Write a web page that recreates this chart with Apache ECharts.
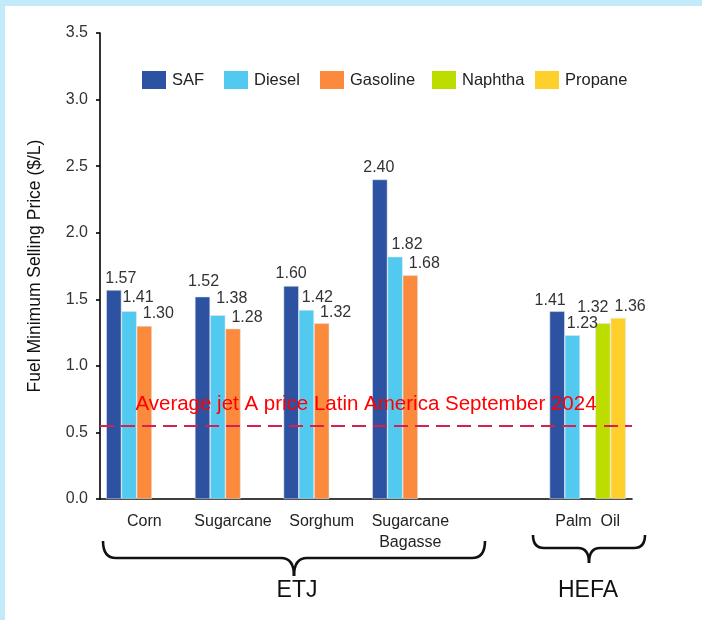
<!DOCTYPE html>
<html>
<head>
<meta charset="utf-8">
<script src="https://cdn.jsdelivr.net/npm/echarts@6/dist/echarts.min.js"></script>
<style>
  html, body { margin: 0; padding: 0; width: 702px; height: 620px; background: #C2EAF8; overflow: hidden; }
  #frame { position: absolute; left: 5px; top: 6px; right: 0; bottom: 0; background: #ffffff; }
  #chart { position: absolute; left: 0; top: 0; width: 702px; height: 620px; }
</style>
</head>
<body>
<div id="frame"></div>
<div id="chart"></div>
<script>
// ---------- data ----------
const categories = ['Corn', 'Sugarcane', 'Sorghum', 'Sugarcane\nBagasse', '', 'Palm  Oil'];
const seriesNames = ['SAF', 'Diesel', 'Gasoline', 'Naphtha', 'Propane'];
const safValues      = [1.57, 1.52, 1.60, 2.40, null, 1.41];
const dieselValues   = [1.41, 1.38, 1.42, 1.82, null, 1.23];
const gasolineValues = [1.30, 1.28, 1.32, 1.68, null, null];
const naphthaValues  = [null, null, null, null, null, 1.32];
const propaneValues  = [null, null, null, null, null, 1.36];
const jetAPrice = 0.55;
const jetALabel = 'Average jet A price Latin America September 2024';
const yTicks = [0, 0.5, 1.0, 1.5, 2.0, 2.5, 3.0, 3.5];
const groupLabels = ['ETJ', 'HEFA'];

// ---------- styles ----------
const colors = ['#2E52A2', '#52C9EE', '#FB8A3C', '#BDDC00', '#FFD02C'];
// label nudges [dx, dy] per series per category (style only)
const labelShift = [
  [[7, 1], [1, -3], [0, 0], [-1, 0], [0, 0], [-7, 1]],
  [[9, -2], [14, -5], [11, 0], [12, 0], [0, 0], [10, 0]],
  [[14, 0], [14, 1], [14, 1], [14, 0], [0, 0], [0, 0]],
  [[0, 0], [0, 0], [0, 0], [0, 0], [0, 0], [-10, -4]],
  [[0, 0], [0, 0], [0, 0], [0, 0], [0, 0], [12, 1]]
];
const legendLeft = [142, 224, 320, 432, 535];
const FONT = "'Liberation Sans', Arial, sans-serif";

const valueSets = [safValues, dieselValues, gasolineValues, naphthaValues, propaneValues];

const chart = echarts.init(document.getElementById('chart'), null, { renderer: 'canvas' });

const series = seriesNames.map((name, si) => {
  const s = {
    name: name,
    type: 'bar',
    barGap: '0%',
    barCategoryGap: '14%',
    itemStyle: { color: colors[si], borderColor: 'rgba(225,232,242,0.9)', borderWidth: 0.6 },
    emphasis: { disabled: true },
    label: {
      show: true,
      position: 'top',
      distance: 4,
      fontFamily: FONT,
      fontSize: 16,
      color: '#333333',
      formatter: p => p.value == null ? '' : Number(p.value).toFixed(2)
    },
    data: valueSets[si].map((v, ci) => ({
      value: v,
      label: { offset: labelShift[si][ci] }
    }))
  };
  if (si === 0) {
    s.markLine = {
      silent: true,
      symbol: ['none', 'none'],
      lineStyle: { color: '#D6204E', type: [14, 7], width: 2 },
      label: {
        show: true,
        position: 'insideMiddleTop',
        distance: 11,
        formatter: jetALabel,
        color: '#FF0000',
        fontFamily: FONT,
        fontSize: 20.5
      },
      emphasis: { disabled: true },
      data: [{ yAxis: jetAPrice }]
    };
  }
  return s;
});

const legends = seriesNames.map((name, i) => ({
  data: [name],
  left: legendLeft[i],
  top: 71,
  padding: 0,
  itemWidth: 24,
  itemHeight: 18,
  itemGap: 10,
  icon: 'rect',
  selectedMode: false,
  itemStyle: { borderWidth: 0 },
  textStyle: { fontFamily: FONT, fontSize: 16.5, color: '#222222', padding: [0, 0, 0, 1] }
}));

const braceStyle = { stroke: '#111111', lineWidth: 2.6, fill: null };
function brace(left, right, top, hy, tip, mid, r) {
  const q = (x1, y1, cx, cy, x2, y2) => ({
    type: 'bezierCurve', silent: true,
    shape: { x1: x1, y1: y1, cpx1: cx, cpy1: cy, x2: x2, y2: y2 },
    style: braceStyle
  });
  const l = (x1, y1, x2, y2) => ({
    type: 'line', silent: true,
    shape: { x1: x1, y1: y1, x2: x2, y2: y2 },
    style: braceStyle
  });
  return [
    q(left, top, left, hy, left + r, hy),
    l(left + r, hy, mid - r, hy),
    q(mid - r, hy, mid, hy, mid, tip),
    q(mid, tip, mid, hy, mid + r, hy),
    l(mid + r, hy, right - r, hy),
    q(right - r, hy, right, hy, right, top)
  ];
}

const option = {
  animation: false,
  backgroundColor: 'transparent',
  textStyle: { fontFamily: FONT },
  grid: { left: 100, right: 70, top: 33, bottom: 121, containLabel: false },
  legend: legends,
  xAxis: {
    type: 'category',
    data: categories,
    axisTick: { show: false },
    axisLine: { lineStyle: { color: '#000000', width: 1.6 } },
    axisLabel: { fontFamily: FONT, fontSize: 16, color: '#222222', margin: 12, lineHeight: 21, interval: 0 }
  },
  yAxis: {
    type: 'value',
    min: yTicks[0],
    max: yTicks[yTicks.length - 1],
    interval: 0.5,
    name: 'Fuel Minimum Selling Price ($/L)',
    nameLocation: 'middle',
    nameGap: 56,
    nameTextStyle: { fontFamily: FONT, fontSize: 17.5, color: '#111111' },
    splitLine: { show: false },
    axisLine: { show: true, lineStyle: { color: '#000000', width: 1.6 } },
    axisTick: { show: true, length: 4, lineStyle: { color: '#000000', width: 1.6 } },
    axisLabel: { fontFamily: FONT, fontSize: 16, color: '#333333', margin: 12, formatter: v => v.toFixed(1) }
  },
  graphic: [].concat(
    brace(103, 485, 541, 558, 576, 294, 13),
    brace(533, 645, 535, 548, 563, 589, 11),
    [
      { type: 'text', x: 297, y: 591, silent: true,
        style: { text: groupLabels[0], font: '23px ' + FONT, fill: '#111111', textAlign: 'center', textVerticalAlign: 'middle' } },
      { type: 'text', x: 588, y: 591, silent: true,
        style: { text: groupLabels[1], font: '23px ' + FONT, fill: '#111111', textAlign: 'center', textVerticalAlign: 'middle' } }
    ]
  ),
  series: series
};

chart.setOption(option);
</script>
</body>
</html>
